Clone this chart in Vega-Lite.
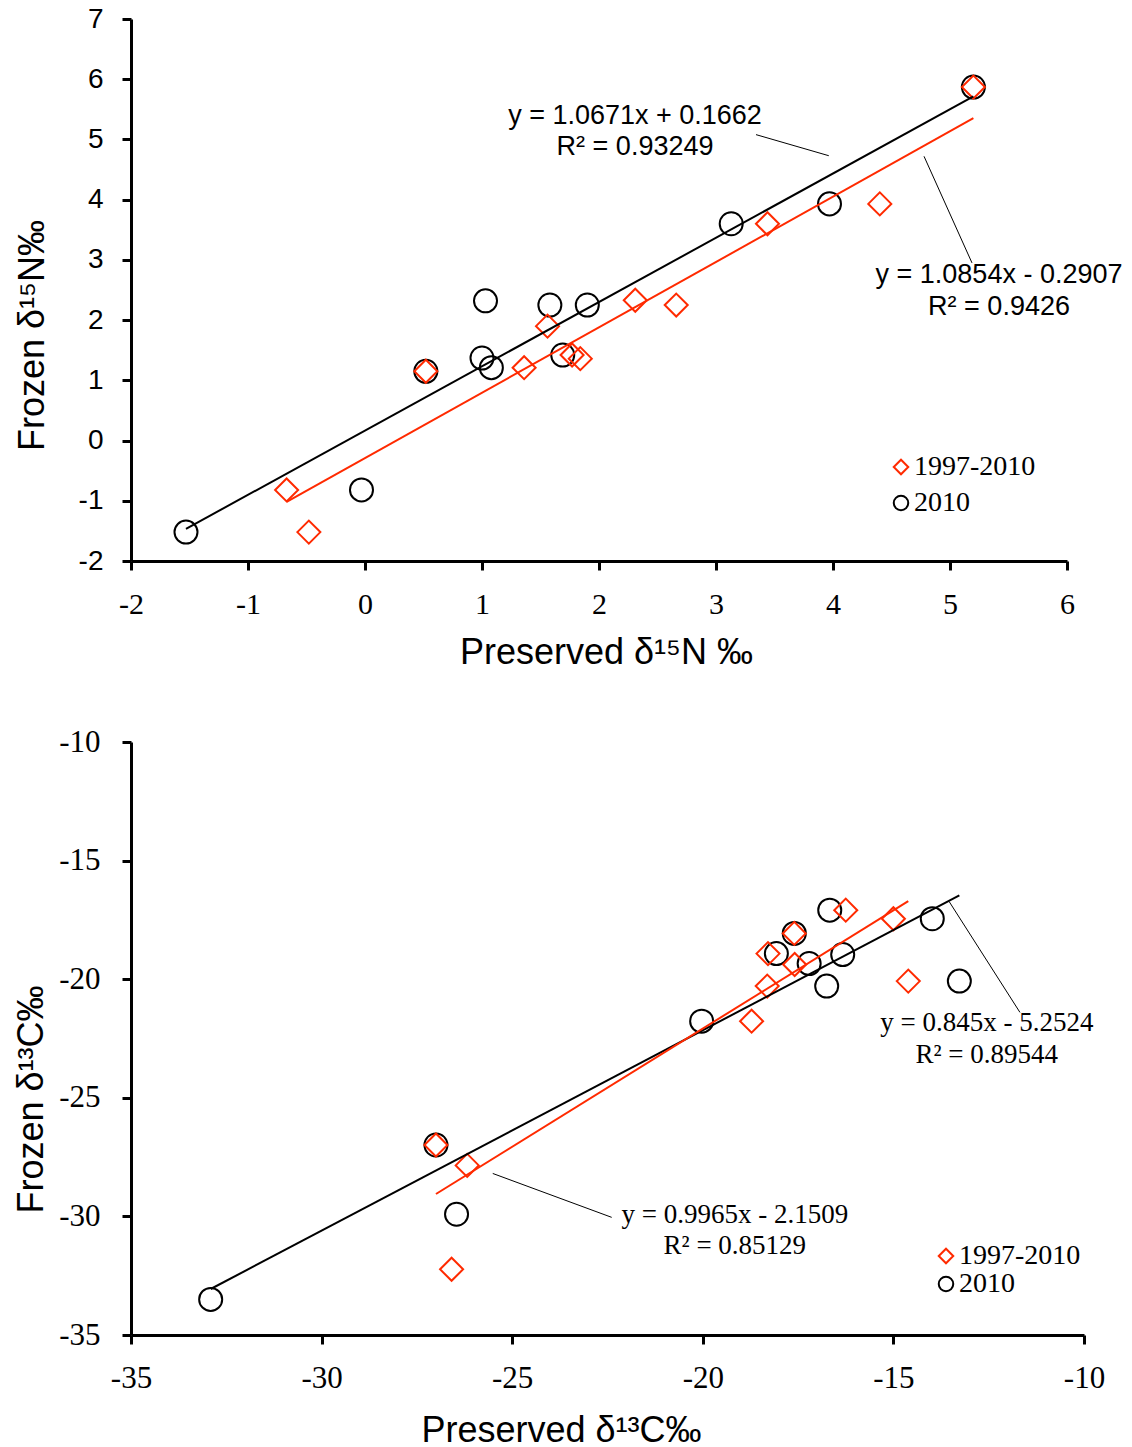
{
  "$schema": "https://vega.github.io/schema/vega-lite/v6.json",
  "background": "white",
  "padding": {"left": 13, "top": 5, "right": 5, "bottom": 5},
  "spacing": 56,
  "config": {
    "view": {"stroke": null},
    "axis": {
      "grid": false,
      "labelFlush": false,
      "domainColor": "black",
      "domainWidth": 3,
      "tickColor": "black",
      "tickWidth": 3,
      "tickSize": 9,
      "labelColor": "black",
      "titleColor": "black",
      "titleFont": "Liberation Sans",
      "titleFontSize": 36,
      "titleFontWeight": "normal"
    }
  },
  "datasets": {
    "n15": [
      {"series": "2010", "preserved": -1.53, "frozen": -1.52},
      {"series": "2010", "preserved": -0.03, "frozen": -0.82},
      {"series": "2010", "preserved": 0.52, "frozen": 1.15},
      {"series": "2010", "preserved": 1.0, "frozen": 1.37},
      {"series": "2010", "preserved": 1.08, "frozen": 1.21},
      {"series": "2010", "preserved": 1.03, "frozen": 2.32},
      {"series": "2010", "preserved": 1.58, "frozen": 2.25},
      {"series": "2010", "preserved": 1.69, "frozen": 1.42},
      {"series": "2010", "preserved": 1.9, "frozen": 2.25},
      {"series": "2010", "preserved": 3.13, "frozen": 3.6},
      {"series": "2010", "preserved": 3.97, "frozen": 3.93},
      {"series": "2010", "preserved": 5.2, "frozen": 5.87},
      {"series": "1997-2010", "preserved": -0.67, "frozen": -0.82},
      {"series": "1997-2010", "preserved": -0.48, "frozen": -1.52},
      {"series": "1997-2010", "preserved": 0.52, "frozen": 1.15},
      {"series": "1997-2010", "preserved": 1.36, "frozen": 1.21},
      {"series": "1997-2010", "preserved": 1.56, "frozen": 1.9},
      {"series": "1997-2010", "preserved": 1.77, "frozen": 1.42},
      {"series": "1997-2010", "preserved": 1.84, "frozen": 1.36},
      {"series": "1997-2010", "preserved": 2.31, "frozen": 2.33},
      {"series": "1997-2010", "preserved": 2.66, "frozen": 2.25},
      {"series": "1997-2010", "preserved": 3.44, "frozen": 3.6},
      {"series": "1997-2010", "preserved": 4.4, "frozen": 3.93},
      {"series": "1997-2010", "preserved": 5.2, "frozen": 5.87}
    ],
    "n15fit": [
      {"series": "2010", "preserved": -1.53, "frozen": -1.4665},
      {"series": "2010", "preserved": 5.2, "frozen": 5.715},
      {"series": "1997-2010", "preserved": -0.67, "frozen": -1.018},
      {"series": "1997-2010", "preserved": 5.2, "frozen": 5.353}
    ],
    "n15leaders": [
      {"preserved": 3.342, "frozen": 5.08, "preserved2": 3.964, "frozen2": 4.73},
      {"preserved": 4.778, "frozen": 4.72, "preserved2": 5.188, "frozen2": 2.95}
    ],
    "n15notes": [
      {"preserved": 2.308, "frozen": 5.384, "label": "y = 1.0671x + 0.1662"},
      {"preserved": 2.308, "frozen": 4.878, "label": "R² = 0.93249"},
      {"preserved": 5.419, "frozen": 2.757, "label": "y = 1.0854x - 0.2907"},
      {"preserved": 5.419, "frozen": 2.226, "label": "R² = 0.9426"}
    ],
    "c13": [
      {"series": "2010", "preserved": -32.91, "frozen": -33.5},
      {"series": "2010", "preserved": -27.0, "frozen": -26.99},
      {"series": "2010", "preserved": -26.46, "frozen": -29.91},
      {"series": "2010", "preserved": -20.03, "frozen": -21.77},
      {"series": "2010", "preserved": -18.07, "frozen": -18.92},
      {"series": "2010", "preserved": -17.6, "frozen": -18.07},
      {"series": "2010", "preserved": -17.21, "frozen": -19.34},
      {"series": "2010", "preserved": -16.33, "frozen": -18.96},
      {"series": "2010", "preserved": -16.75, "frozen": -20.29},
      {"series": "2010", "preserved": -16.67, "frozen": -17.09},
      {"series": "2010", "preserved": -13.98, "frozen": -17.45},
      {"series": "2010", "preserved": -13.27, "frozen": -20.08},
      {"series": "1997-2010", "preserved": -27.0, "frozen": -26.99},
      {"series": "1997-2010", "preserved": -26.18, "frozen": -27.85},
      {"series": "1997-2010", "preserved": -26.59, "frozen": -32.23},
      {"series": "1997-2010", "preserved": -18.72, "frozen": -21.77},
      {"series": "1997-2010", "preserved": -18.31, "frozen": -20.29},
      {"series": "1997-2010", "preserved": -18.29, "frozen": -18.92},
      {"series": "1997-2010", "preserved": -17.6, "frozen": -18.07},
      {"series": "1997-2010", "preserved": -17.59, "frozen": -19.38},
      {"series": "1997-2010", "preserved": -16.25, "frozen": -17.09},
      {"series": "1997-2010", "preserved": -15.0, "frozen": -17.45},
      {"series": "1997-2010", "preserved": -14.61, "frozen": -20.08}
    ],
    "c13fit": [
      {"series": "2010", "preserved": -32.91, "frozen": -33.061},
      {"series": "2010", "preserved": -13.27, "frozen": -16.466},
      {"series": "1997-2010", "preserved": -27.0, "frozen": -29.056},
      {"series": "1997-2010", "preserved": -14.61, "frozen": -16.71}
    ],
    "c13leaders": [
      {"preserved": -13.54, "frozen": -16.72, "preserved2": -11.68, "frozen2": -21.4},
      {"preserved": -25.51, "frozen": -28.19, "preserved2": -22.39, "frozen2": -30.04}
    ],
    "c13notes": [
      {"preserved": -12.55, "frozen": -21.86, "label": "y = 0.845x - 5.2524"},
      {"preserved": -12.55, "frozen": -23.21, "label": "R² = 0.89544"},
      {"preserved": -19.16, "frozen": -29.96, "label": "y = 0.9965x - 2.1509"},
      {"preserved": -19.16, "frozen": -31.26, "label": "R² = 0.85129"}
    ]
  },
  "resolve": {
    "scale": {"color": "independent", "shape": "independent", "stroke": "independent"},
    "legend": {"color": "independent", "shape": "independent"}
  },
  "vconcat": [
    {
      "width": 936,
      "height": 542,
      "layer": [
        {
          "data": {"name": "n15"},
          "mark": {"type": "point", "filled": false, "strokeWidth": 2, "opacity": 1, "size": 530},
          "encoding": {
            "x": {
              "field": "preserved", "type": "quantitative",
              "scale": {"domain": [-2, 6], "nice": false, "zero": false},
              "axis": {
                "values": [-2, -1, 0, 1, 2, 3, 4, 5, 6],
                "labelExpr": "'' + datum.value",
                "labelFont": "Liberation Serif", "labelFontSize": 30, "labelPadding": 19,
                "title": "Preserved δ¹⁵N ‰",
                "titleX": 475, "titleY": 102, "titleBaseline": "alphabetic", "titleAlign": "center"
              }
            },
            "y": {
              "field": "frozen", "type": "quantitative",
              "scale": {"domain": [-2, 7], "nice": false, "zero": false},
              "axis": {
                "values": [-2, -1, 0, 1, 2, 3, 4, 5, 6, 7],
                "labelExpr": "'' + datum.value",
                "labelFont": "Liberation Sans", "labelFontSize": 28, "labelPadding": 19,
                "title": "Frozen δ¹⁵N‰",
                "titleX": -88, "titleY": 316, "titleBaseline": "alphabetic", "titleAlign": "center", "titleAngle": 270
              }
            },
            "color": {
              "field": "series", "type": "nominal",
              "scale": {"domain": ["1997-2010", "2010"], "range": ["#ff2a00", "#000000"]},
              "legend": {"title": null, "orient": "none", "legendX": 756, "legendY": 434, "labelFont": "Liberation Serif", "labelFontSize": 28, "labelColor": "black", "symbolSize": 210, "symbolStrokeWidth": 2, "rowPadding": 8, "labelOffset": -1}
            },
            "shape": {
              "field": "series", "type": "nominal",
              "scale": {"domain": ["1997-2010", "2010"], "range": ["diamond", "circle"]},
              "legend": {"title": null, "orient": "none", "legendX": 756, "legendY": 434, "labelFont": "Liberation Serif", "labelFontSize": 28, "labelColor": "black", "symbolSize": 210, "symbolStrokeWidth": 2, "rowPadding": 8, "labelOffset": -1}
            }
          }
        },
        {
          "data": {"name": "n15fit"},
          "mark": {"type": "line", "strokeWidth": 2},
          "encoding": {
            "x": {"field": "preserved", "type": "quantitative"},
            "y": {"field": "frozen", "type": "quantitative"},
            "stroke": {"field": "series", "type": "nominal", "scale": {"domain": ["1997-2010", "2010"], "range": ["#ff2a00", "#000000"]}, "legend": null}
          }
        },
        {
          "data": {"name": "n15leaders"},
          "mark": {"type": "rule", "strokeWidth": 1, "color": "black"},
          "encoding": {
            "x": {"field": "preserved", "type": "quantitative"},
            "y": {"field": "frozen", "type": "quantitative"},
            "x2": {"field": "preserved2"},
            "y2": {"field": "frozen2"}
          }
        },
        {
          "data": {"name": "n15notes"},
          "mark": {"type": "text", "font": "Liberation Sans", "fontSize": 27, "align": "center", "baseline": "middle", "color": "black"},
          "encoding": {
            "x": {"field": "preserved", "type": "quantitative"},
            "y": {"field": "frozen", "type": "quantitative"},
            "text": {"field": "label"}
          }
        }
      ]
    },
    {
      "width": 953,
      "height": 593,
      "layer": [
        {
          "data": {"name": "c13"},
          "mark": {"type": "point", "filled": false, "strokeWidth": 2, "opacity": 1, "size": 530},
          "encoding": {
            "x": {
              "field": "preserved", "type": "quantitative",
              "scale": {"domain": [-35, -10], "nice": false, "zero": false},
              "axis": {
                "values": [-35, -30, -25, -20, -15, -10],
                "labelExpr": "'' + datum.value",
                "labelFont": "Liberation Serif", "labelFontSize": 31, "labelPadding": 19,
                "title": "Preserved δ¹³C‰",
                "titleX": 430, "titleY": 106, "titleBaseline": "alphabetic", "titleAlign": "center"
              }
            },
            "y": {
              "field": "frozen", "type": "quantitative",
              "scale": {"domain": [-35, -10], "nice": false, "zero": false},
              "axis": {
                "values": [-35, -30, -25, -20, -15, -10],
                "labelExpr": "'' + datum.value",
                "labelFont": "Liberation Serif", "labelFontSize": 31, "labelPadding": 22,
                "title": "Frozen δ¹³C‰",
                "titleX": -89, "titleY": 357, "titleBaseline": "alphabetic", "titleAlign": "center", "titleAngle": 270
              }
            },
            "color": {
              "field": "series", "type": "nominal",
              "scale": {"domain": ["1997-2010", "2010"], "range": ["#ff2a00", "#000000"]},
              "legend": {"title": null, "orient": "none", "legendX": 801, "legendY": 500, "labelFont": "Liberation Serif", "labelFontSize": 28, "labelColor": "black", "symbolSize": 210, "symbolStrokeWidth": 2, "rowPadding": 0, "labelOffset": -1}
            },
            "shape": {
              "field": "series", "type": "nominal",
              "scale": {"domain": ["1997-2010", "2010"], "range": ["diamond", "circle"]},
              "legend": {"title": null, "orient": "none", "legendX": 801, "legendY": 500, "labelFont": "Liberation Serif", "labelFontSize": 28, "labelColor": "black", "symbolSize": 210, "symbolStrokeWidth": 2, "rowPadding": 0, "labelOffset": -1}
            }
          }
        },
        {
          "data": {"name": "c13fit"},
          "mark": {"type": "line", "strokeWidth": 2},
          "encoding": {
            "x": {"field": "preserved", "type": "quantitative"},
            "y": {"field": "frozen", "type": "quantitative"},
            "stroke": {"field": "series", "type": "nominal", "scale": {"domain": ["1997-2010", "2010"], "range": ["#ff2a00", "#000000"]}, "legend": null}
          }
        },
        {
          "data": {"name": "c13leaders"},
          "mark": {"type": "rule", "strokeWidth": 1, "color": "black"},
          "encoding": {
            "x": {"field": "preserved", "type": "quantitative"},
            "y": {"field": "frozen", "type": "quantitative"},
            "x2": {"field": "preserved2"},
            "y2": {"field": "frozen2"}
          }
        },
        {
          "data": {"name": "c13notes"},
          "mark": {"type": "text", "font": "Liberation Serif", "fontSize": 27, "align": "center", "baseline": "middle", "color": "black"},
          "encoding": {
            "x": {"field": "preserved", "type": "quantitative"},
            "y": {"field": "frozen", "type": "quantitative"},
            "text": {"field": "label"}
          }
        }
      ]
    }
  ]
}
